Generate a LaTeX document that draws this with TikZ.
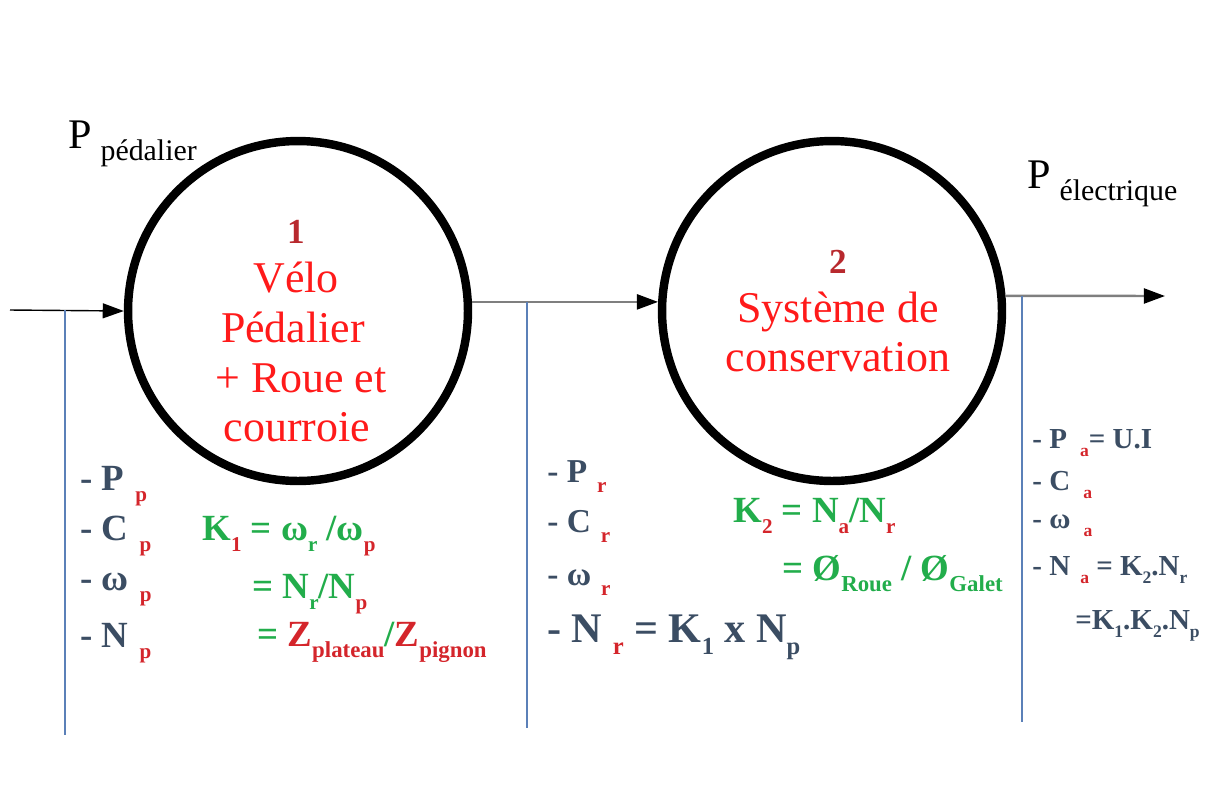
\documentclass[tikz,border=0pt]{standalone}
\usepackage{fontspec}
\setmainfont{Liberation Serif}
\usepackage{xcolor}
\usetikzlibrary{arrows.meta}

\definecolor{ardoise}{HTML}{3B4D63}
\definecolor{rougeidx}{HTML}{D4252B}
\definecolor{vertk}{HTML}{22AD4B}
\definecolor{rougebloc}{HTML}{FF1A1A}
\definecolor{rougenum}{HTML}{B8292E}
\definecolor{bleutrait}{HTML}{5B80B8}
\definecolor{grisflux}{HTML}{7F7F7F}

% indice abaisse, taille et couleur au choix
\newcommand{\idx}[3][12]{\raisebox{-0.3em}{\textcolor{#2}{\fontsize{#1}{#1}\selectfont #3}}}

\tikzset{
  bloc/.style={circle, draw, line width=4.8pt, minimum size=6.8cm, inner sep=0pt},
  bloctxt/.style={text=rougebloc, font=\fontsize{25}{28}\selectfont, anchor=base, inner sep=0pt},
  blocnum/.style={text=rougenum, font=\fontsize{20}{20}\selectfont\bfseries, anchor=base, inner sep=0pt},
  puiss/.style={font=\fontsize{24}{24}\selectfont, anchor=base west, inner sep=0pt},
  liste/.style={text=ardoise, font=\fontsize{21}{21}\selectfont\bfseries, anchor=base west, inner sep=0pt},
  listem/.style={liste, font=\fontsize{19}{19}\selectfont\bfseries},
  listed/.style={liste, font=\fontsize{16.5}{16.5}\selectfont\bfseries},
  rapport/.style={text=vertk, font=\fontsize{21}{21}\selectfont\bfseries, anchor=base west, inner sep=0pt},
  fleche/.style={line width=0.8pt, -{Triangle[length=12pt,width=8.5pt]}},
  flux/.style={draw=grisflux, line width=1.4pt, -{Triangle[length=12pt,width=8.5pt,color=black]}},
  trait/.style={draw=bleutrait, line width=0.8pt}
}

\begin{document}
\begin{tikzpicture}[x=0.02cm, y=-0.02cm]
  \useasboundingbox (0,0) rectangle (1219,789);

  % Blocs
  \node[bloc] (velo) at (298,311) {};
  \node[bloc] (cons) at (832,311) {};

  \node[blocnum] (n1) at (296,243) {1};
  \node[bloctxt] (v1) at (296,292) {Vélo};
  \node[bloctxt] (v2) at (293,342) {Pédalier};
  \node[bloctxt] (v3) at (301,392) {+ Roue et};
  \node[bloctxt] (v4) at (297,441) {courroie};

  \node[blocnum] (n2) at (838,273) {2};
  \node[bloctxt] (c1) at (838,322) {Système de};
  \node[bloctxt] (c2) at (838,371) {conservation};

  % Puissances
  \node[puiss] (pin) at (68,148) {P\hspace{5pt}\idx[17]{black}{pédalier}};
  \node[puiss] (pout) at (1027,188) {P\hspace{5pt}\idx[17]{black}{électrique}};

  % Flux
  \coordinate (entree) at (10,310);
  \coordinate (sortie) at (1165,296);
  \draw[fleche] (entree) -- (velo.west);
  \draw[flux] (velo.3) -- (cons.177);
  \draw[flux] (cons.5) -- (sortie);

  % Traits de rappel
  \draw[trait] (65,310) -- (65,735);
  \draw[trait] (527,302) -- (527,728);
  \draw[trait] (1022,296) -- (1022,722);

  % Grandeurs pedalier
  \node[liste] (pp) at (80,490) {- P\hspace{.3em}\idx{rougeidx}{p}};
  \node[liste] (cp) at (80,540) {- C\hspace{.3em}\idx{rougeidx}{p}};
  \node[liste] (wp) at (80,590) {- ω\hspace{.3em}\idx{rougeidx}{p}};
  \node[liste] (np) at (80,647) {- N\hspace{.3em}\idx{rougeidx}{p}};

  \node[rapport] (k1a) at (202,540) {K\idx{rougeidx}{1} = ω\idx{vertk}{r} /ω\idx{rougeidx}{p}};
  \node[rapport] (k1b) at (252,598) {= N\idx{vertk}{r}/N\idx{rougeidx}{p}};
  \node[rapport] (k1c) at (257,646) {= \textcolor{rougeidx}{Z}\idx[13]{rougeidx}{plateau}/\textcolor{rougeidx}{Z}\idx[13]{rougeidx}{pignon}};

  % Grandeurs roue
  \node[listem] (pr) at (547,482) {- P\hspace{.3em}\idx{rougeidx}{r}};
  \node[listem] (cr) at (547,532) {- C\hspace{.3em}\idx{rougeidx}{r}};
  \node[listem] (wr) at (547,585) {- ω\hspace{.3em}\idx{rougeidx}{r}};
  \node[liste, font=\fontsize{24}{24}\selectfont\bfseries] (nr) at (547,642)
    {- N\hspace{.25em}\idx[14]{rougeidx}{r} = K\idx[14]{ardoise}{1} x N\idx[14]{ardoise}{p}};

  \node[rapport] (k2a) at (733,522) {K\idx{rougeidx}{2} = N\idx{rougeidx}{a}/N\idx{rougeidx}{r}};
  \node[rapport] (k2b) at (782,580) {= Ø\idx[13]{vertk}{Roue} / Ø\idx[13]{vertk}{Galet}};

  % Grandeurs alternateur
  \node[listed] (pa) at (1032,448) {- P\hspace{.45em}\idx[10]{rougeidx}{a}= U.I};
  \node[listed] (ca) at (1032,490) {- C\hspace{.45em}\idx[10]{rougeidx}{a}};
  \node[listed] (wa) at (1032,528) {- ω\hspace{.45em}\idx[10]{rougeidx}{a}};
  \node[listed] (na) at (1032,575) {- N\hspace{.35em}\idx[10]{rougeidx}{a} = K\idx[10]{ardoise}{2}.N\idx[10]{ardoise}{r}};
  \node[listed] (nb) at (1075,629) {=K\idx[10]{ardoise}{1}.K\idx[10]{ardoise}{2}.N\idx[10]{ardoise}{p}};
\end{tikzpicture}
\end{document}
